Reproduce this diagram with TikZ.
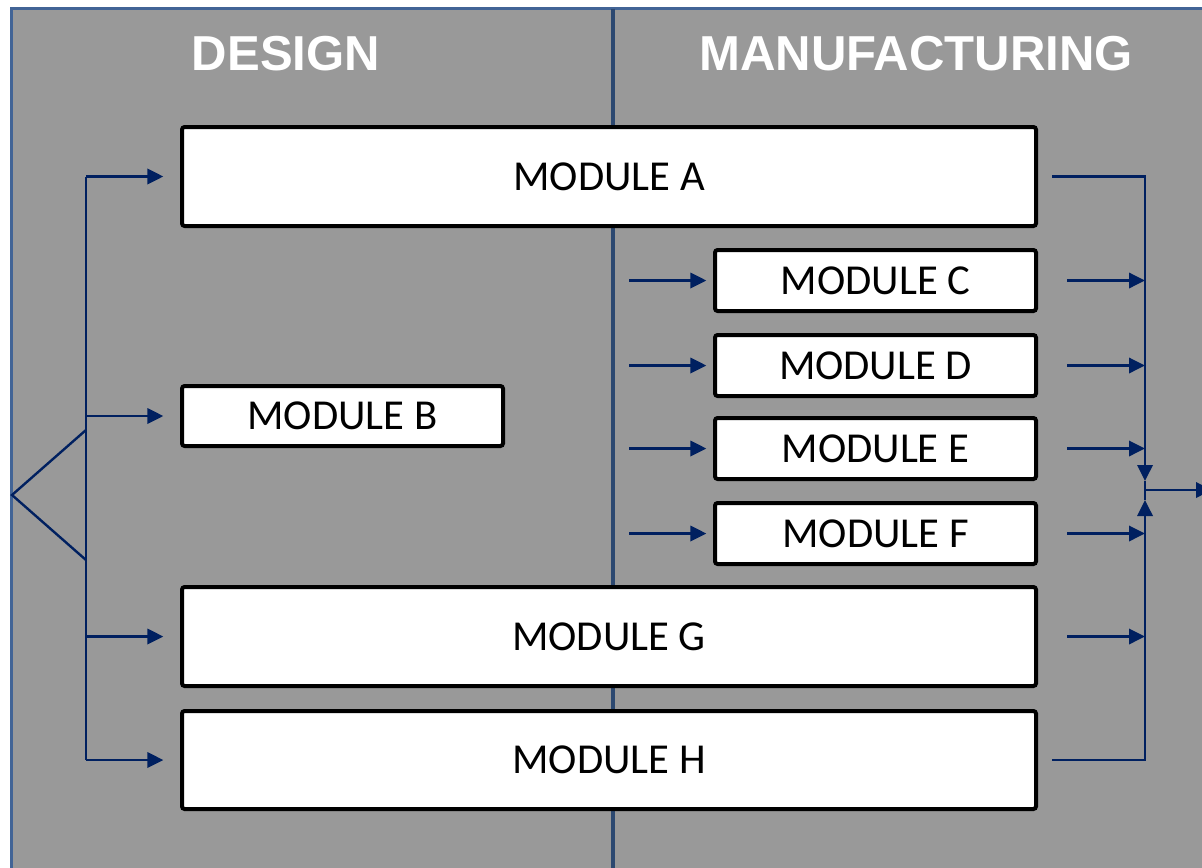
\documentclass[tikz,border=0pt]{standalone}
\usepackage{fontspec}
\setmainfont{Carlito}
\newfontfamily\headfont{Liberation Sans}
\usetikzlibrary{arrows.meta,calc}

\definecolor{panelgray}{RGB}{153,153,153}
\definecolor{framblue}{RGB}{66,100,150}
\definecolor{splitblue}{RGB}{44,72,112}
\definecolor{flownavy}{RGB}{0,32,96}

\begin{document}
\begin{tikzpicture}[x=0.75pt, y=-0.75pt,
	module/.style={draw=black, line width=3pt, fill=white, rounded corners=2pt,
		inner sep=0pt, font=\fontsize{32}{36}\selectfont},
	wide/.style={module, minimum width=640.5pt, minimum height=74.25pt},
	small/.style={module, minimum width=240.75pt, minimum height=45.75pt},
	heading/.style={text=white, font=\headfont\bfseries\fontsize{36.8}{40}\selectfont},
	link/.style={draw=flownavy, line width=1.8pt},
	flow/.style={link, -{Triangle[length=12pt, width=11.5pt]}}]
			%%%%% START %%%%%
			
			\clip (0, 0) rectangle (1202, 867);
			\fill[white] (0, 0) rectangle (1202, 867);
			
			% panel and the two columns
			\draw[line width=2.25pt, draw=framblue, fill=panelgray] (11, 9) rectangle (1240, 900);
			\draw[line width=2.5pt, color=splitblue] (613, 9) -- (613, 880);
			
			\node[heading] (design) at (286, 54) {DESIGN};
			\node[heading] (manuf) at (916, 54) {MANUFACTURING};
			
			% modules
			\node[wide] (ma) at (609, 176.5) {MODULE A};
			\node[small, minimum height=45pt] (mb) at (342.5, 416) {MODULE B};
			\node[small] (mc) at (875.5, 280.5) {MODULE C};
			\node[small] (md) at (875.5, 365.5) {MODULE D};
			\node[small] (me) at (875.5, 448.5) {MODULE E};
			\node[small] (mf) at (875.5, 533.5) {MODULE F};
			\node[wide] (mg) at (609, 636.5) {MODULE G};
			\node[wide, minimum height=73.5pt] (mh) at (609, 760) {MODULE H};
			
			% fan out on the left
			\coordinate (trunk) at (86, 0);
			\coordinate (fork) at (12, 495);
			\draw[link] (ma.west -| trunk) -- (mh.west -| trunk);
			\draw[link] (86, 430) -- (fork) -- (86, 560);
			\foreach \m in {ma, mb, mg, mh}
				\draw[flow, shorten >=12.5pt] (\m.west -| trunk) -- (\m.west);
			
			% feeds into the manufacturing modules
			\coordinate (feed) at (629, 0);
			\foreach \m in {mc, md, me, mf}
				\draw[flow, shorten >=5pt] (\m.west -| feed) -- (\m.west);
			
			% collecting on the right
			\coordinate (join) at (1145, 490);
			\foreach \m in {mc, md, me, mf, mg}
				\draw[flow, shorten <=21.75pt] (\m.east) -- (\m.east -| join);
			\draw[flow, shorten <=10.5pt] (ma.east) -| ($(join)+(0, -9)$);
			\draw[flow, shorten <=10.5pt] (mh.east) -| ($(join)+(0, 10)$);
			\draw[link] ($(join)+(0, -9)$) -- ($(join)+(0, 10)$);
			\draw[flow] (join) -- (1212, 490);
			
			%%%%% END %%%%%
\end{tikzpicture}
\end{document}
